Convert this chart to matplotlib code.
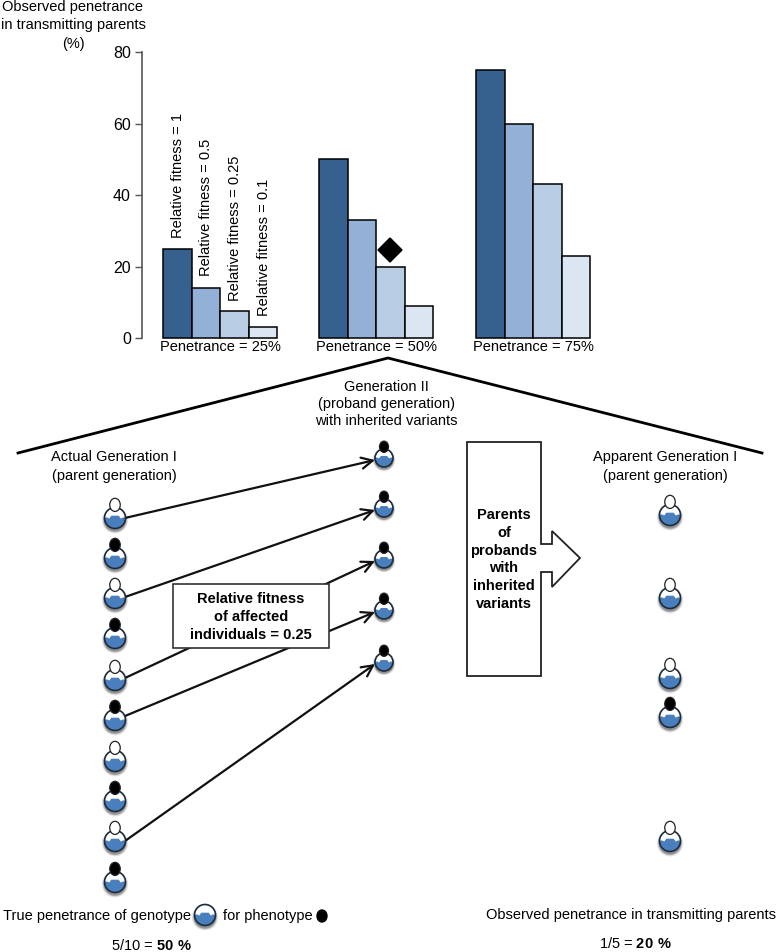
import numpy as np
import matplotlib
matplotlib.use("Agg")
import matplotlib.pyplot as plt
from matplotlib.patches import Circle, Ellipse, Polygon, Rectangle

plt.rcParams["font.family"] = ["Liberation Sans", "DejaVu Sans"]
plt.rcParams["mathtext.fontset"] = "custom"
plt.rcParams["mathtext.rm"] = "Liberation Sans"
plt.rcParams["mathtext.bf"] = "Liberation Sans:bold"

# =========================================================
# DATA
# =========================================================

penetrance_labels = ["Penetrance = 25%", "Penetrance = 50%", "Penetrance = 75%"]
fitness_labels = ["Relative fitness = 1", "Relative fitness = 0.5",
                  "Relative fitness = 0.25", "Relative fitness = 0.1"]
observed_25 = [25, 14, 7.5, 3]
observed_50 = [50, 33, 20, 9]
observed_75 = [75, 60, 43, 23]
y_ticks = [0, 20, 40, 60, 80]

# True = affected (black head)
actual_gen_i = [False, True, False, True, False, True, False, True, False, True]
apparent_gen_i = [False, False, False, True, False]

# =========================================================
# STYLE / LAYOUT
# =========================================================

W, H = 776, 952
FS = 10.5
bar_colors = ["#36618f", "#93b0d6", "#b9cde5", "#dce6f2"]
BLUE = "#4a7fbe"

fig = plt.figure(figsize=(W / 100, H / 100), dpi=100, facecolor="white")

# overlay in image pixels for the diagram part
ov = fig.add_axes([0, 0, 1, 1], zorder=1)
ov.set_xlim(0, W)
ov.set_ylim(H, 0)
ov.axis("off")

# bar chart axes
ax = fig.add_axes([142 / W, 1 - 338 / H, 458 / W, 286 / H], zorder=2)
ax.patch.set_alpha(0)


# =========================================================
# BARS
# =========================================================

bar_w = 28.5
group_starts = [21, 177, 334]
for start, vals in zip(group_starts, [observed_25, observed_50, observed_75]):
    xs = start + bar_w * (np.arange(4) + 0.5)
    ax.bar(xs, vals, width=bar_w, color=bar_colors, edgecolor="black",
           linewidth=1.1, clip_on=False)

ax.set_xlim(0, 458)
ax.set_ylim(0, 80)
ax.set_xticks([])
ax.set_yticks(y_ticks)
ax.tick_params(axis="y", length=5, width=1, color="#555555", labelsize=11.5, pad=3)
for side in ["top", "right", "bottom"]:
    ax.spines[side].set_visible(False)
ax.spines["left"].set_color("#555555")
ax.spines["left"].set_linewidth(1.2)

for label, cx in zip(penetrance_labels, [220, 376, 533]):
    ov.text(cx, 347, label, ha="center", va="center", fontsize=FS)

for label, x, bottom in zip(fitness_labels, [178, 206, 235, 264], [238, 276, 301, 316]):
    ov.text(x, bottom, label, rotation=90, ha="center", va="bottom", fontsize=FS)

ov.text(73, 7, "Observed penetrance", ha="center", va="center", fontsize=FS)
ov.text(73, 25, "in transmitting parents", ha="center", va="center", fontsize=FS)
ov.text(73, 44, "(%)", ha="center", va="center", fontsize=FS)

# diamond above the 50% / 0.25 bar
ov.add_patch(Polygon([(378, 250), (390, 238), (402, 250), (390, 262)], color="black"))

# roof lines
ov.plot([18, 388, 762], [453, 358, 453], color="black", lw=2, solid_joinstyle="miter")


# =========================================================
# PEOPLE
# =========================================================

def draw_body(x, y, r, z=5):
    for k, a in [(1.25, 0.10), (1.15, 0.15), (1.07, 0.25)]:
        ov.add_patch(Circle((x, y + r * 0.22), r * k, color="black", alpha=a, lw=0, zorder=z))
    ov.add_patch(Circle((x, y), r, facecolor="white", edgecolor="none", zorder=z))
    # blue liquid with a raised middle, cut to the circle
    top = [(-1.1, -0.05), (-0.75, -0.05), (-0.55, 0.05), (-0.35, -0.22), (0.35, -0.22),
           (0.55, 0.05), (0.75, -0.05), (1.1, -0.05), (1.1, 1.1), (-1.1, 1.1)]
    blue = Polygon([(x + dx * r, y + dy * r) for dx, dy in top], color=BLUE, lw=0, zorder=z + 0.1)
    ov.add_patch(blue)
    blue.set_clip_path(Circle((x, y), r, transform=ov.transData))
    ov.add_patch(Circle((x, y), r, facecolor="none", edgecolor="#1c2c3c", lw=1.2, zorder=z + 0.2))


def draw_person(x, y, affected, r=10.5):
    draw_body(x, y, r)
    face = "black" if affected else "white"
    ov.add_patch(Ellipse((x, y - 1.25 * r), r * 1.0, r * 1.25, facecolor=face,
                         edgecolor="#222222", lw=0.9, zorder=6))


left_y = [518, 558, 598, 638, 680, 720, 761, 801, 841, 882]
for y, affected in zip(left_y, actual_gen_i):
    draw_person(115, y, affected)

mid_y = [458, 508, 559, 610, 662]
for y in mid_y:
    draw_person(384, y, True, r=9)

right_y = [515, 598, 678, 717, 841]
for y, affected in zip(right_y, apparent_gen_i):
    draw_person(670, y, affected)


# =========================================================
# ARROWS AND BOXES
# =========================================================

arrow_from = [(125, 518), (125, 597), (125, 678), (125, 716), (125, 841)]
for (x0, y0), my in zip(arrow_from, mid_y):
    ov.annotate("", xy=(375, my + 2), xytext=(x0, y0), zorder=3,
                arrowprops=dict(arrowstyle="->", color="#111111", lw=1.6,
                                mutation_scale=20, shrinkA=0, shrinkB=0))

ov.add_patch(Rectangle((173, 584), 156, 64, facecolor="white", edgecolor="#333333",
                       lw=1.2, zorder=4))
ov.text(251, 599, "Relative fitness", ha="center", va="center", fontsize=FS,
        fontweight="bold", zorder=5)
ov.text(251, 617, "of affected", ha="center", va="center", fontsize=FS,
        fontweight="bold", zorder=5)
ov.text(251, 635, "individuals = 0.25", ha="center", va="center", fontsize=FS,
        fontweight="bold", zorder=5)

ov.add_patch(Polygon([(467, 442), (541, 442), (541, 544), (552, 544), (552, 531), (580, 558),
                      (552, 587), (552, 572), (541, 572), (541, 676), (467, 676)],
                     facecolor="white", edgecolor="#222222", lw=1.3, zorder=3))
for line, y in zip(["Parents", "of", "probands", "with", "inherited", "variants"],
                   [515, 533, 551, 568, 586, 604]):
    ov.text(504, y, line, ha="center", va="center", fontsize=FS, fontweight="bold", zorder=4)


# =========================================================
# TEXT
# =========================================================

for line, y in zip(["Generation II", "(proband generation)", "with inherited variants"],
                   [387, 404, 421]):
    ov.text(386, y, line, ha="center", va="center", fontsize=FS)

for cx, lines in [(114, ["Actual Generation I", "(parent generation)"]),
                  (665, ["Apparent Generation I", "(parent generation)"])]:
    ov.text(cx, 457, lines[0], ha="center", va="center", fontsize=FS)
    ov.text(cx, 476, lines[1], ha="center", va="center", fontsize=FS)

ov.text(3, 916, "True penetrance of genotype", ha="left", va="center", fontsize=FS)
draw_body(205, 915, 10.5)
ov.text(223, 916, "for phenotype", ha="left", va="center", fontsize=FS)
ov.add_patch(Ellipse((322, 916), 10, 12, color="black"))
ov.text(151, 945, r"5/10 = $\mathbf{50\ \%}$", ha="center", va="center", fontsize=FS)

ov.text(631, 915, "Observed penetrance in transmitting parents", ha="center", va="center", fontsize=FS)
ov.text(635, 943, r"1/5 = $\mathbf{20\ \%}$", ha="center", va="center", fontsize=FS)

fig.savefig("out.png", dpi=100)
